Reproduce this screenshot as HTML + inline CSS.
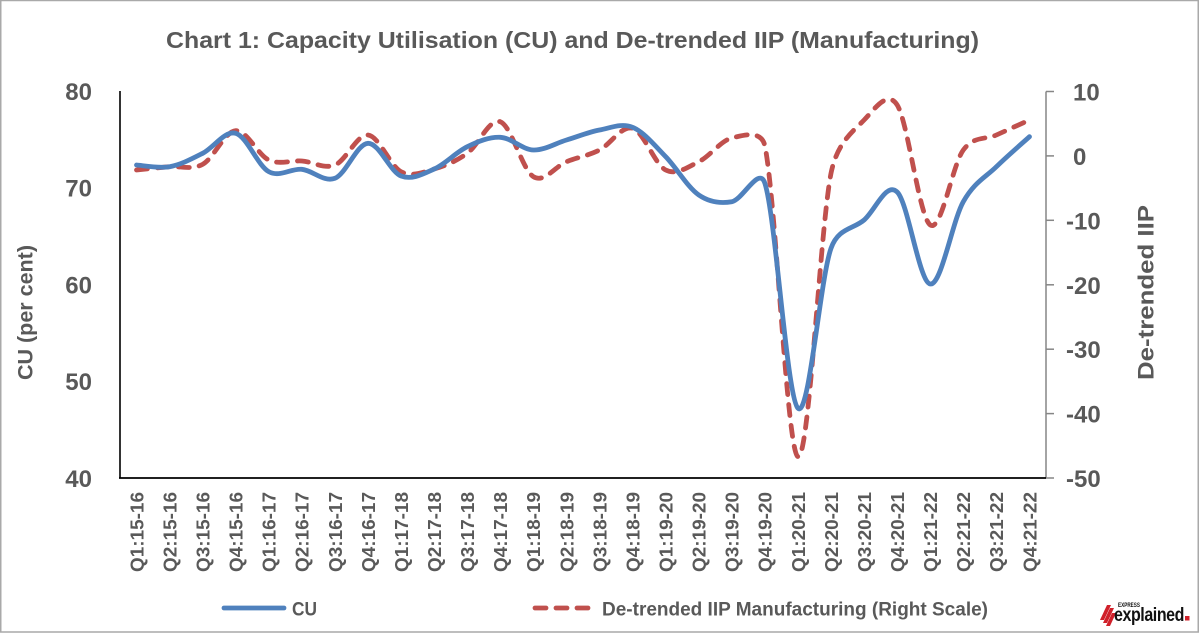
<!DOCTYPE html>
<html>
<head>
<meta charset="utf-8">
<style>
html,body{margin:0;padding:0;background:#fff;}
svg{display:block;}
text{font-family:"Liberation Sans",Arial,sans-serif;font-weight:bold;fill:#595959;}
</style>
</head>
<body>
<svg id="chart" width="1200" height="633" viewBox="0 0 1200 633" xmlns="http://www.w3.org/2000/svg">
  <rect x="0" y="0" width="1200" height="633" fill="#fff"/>
  <rect x="0.75" y="0.5" width="1197.5" height="631.5" fill="none" stroke="#a9a9a9" stroke-width="1.5"/>

  <!-- Title -->
  <text x="166" y="48" font-size="23" textLength="813" lengthAdjust="spacingAndGlyphs">Chart 1: Capacity Utilisation (CU) and De-trended IIP (Manufacturing)</text>

  <!-- Axes -->
  <line x1="120" y1="91" x2="120" y2="478.5" stroke="#000" stroke-width="1.6"/>
  <line x1="1046" y1="91.5" x2="1046" y2="478.5" stroke="#868686" stroke-width="1.5"/>
  <g stroke="#868686" stroke-width="1.5">
    <line x1="1046" y1="91.5" x2="1054" y2="91.5"/>
    <line x1="1046" y1="155.9" x2="1054" y2="155.9"/>
    <line x1="1046" y1="220.3" x2="1054" y2="220.3"/>
    <line x1="1046" y1="284.8" x2="1054" y2="284.8"/>
    <line x1="1046" y1="349.2" x2="1054" y2="349.2"/>
    <line x1="1046" y1="413.6" x2="1054" y2="413.6"/>
    <line x1="1046" y1="478" x2="1054" y2="478"/>
  </g>
  <line x1="119" y1="478" x2="1046" y2="478" stroke="#000" stroke-width="1.8"/>

  <!-- Left tick labels -->
  <g font-size="24" text-anchor="end">
    <text x="92" y="100">80</text>
    <text x="92" y="196.7">70</text>
    <text x="92" y="293.5">60</text>
    <text x="92" y="390.2">50</text>
    <text x="92" y="487">40</text>
  </g>
  <!-- Right tick labels -->
  <g font-size="24">
    <text x="1073" y="100.5">10</text>
    <text x="1073" y="164.9">0</text>
    <text x="1066" y="229.3">-10</text>
    <text x="1066" y="293.8">-20</text>
    <text x="1066" y="358.2">-30</text>
    <text x="1066" y="422.6">-40</text>
    <text x="1066" y="487">-50</text>
  </g>

  <!-- Axis titles -->
  <text transform="translate(32.5,380) rotate(-90)" font-size="21" textLength="135" lengthAdjust="spacingAndGlyphs">CU (per cent)</text>
  <text transform="translate(1153.5,380) rotate(-90)" font-size="22" textLength="175" lengthAdjust="spacingAndGlyphs">De-trended IIP</text>

  <!-- X labels -->
  <g id="xlabels" font-size="18.5" text-anchor="end"></g>

  <!-- Series -->
  <path id="iip" fill="none" stroke="#c0504d" stroke-width="4.8" stroke-dasharray="11 10" stroke-linecap="round" stroke-linejoin="round"
    d="M136.5,170 L169.6,166.7 L202.7,164.3 L235.7,130.7 L268.8,160 L301.9,161 L334.9,165 L368,135 L401.1,171.7 L434.1,169 L467.2,153.3 L500.3,121.7 L533.3,176.7 L566.4,161.7 L599.5,150 L632.6,128.3 L665.6,170 L698.7,161.7 L731.8,138 L764.8,146 L797.9,456.7 L831,173.3 L864,120 L897.1,105 L930.2,225 L963.3,150 L996.3,135 L1029.4,120"/>
  <path id="cu" fill="none" stroke="#4f81bd" stroke-width="4.8" stroke-linecap="round" stroke-linejoin="round"
    d="M136.5,165 L169.6,166.7 L202.7,153.3 L235.7,133.3 L268.8,171.7 L301.9,169.3 L334.9,178.3 L368,143.3 L401.1,176 L434.1,169 L467.2,146.7 L500.3,137.3 L533.3,150 L566.4,140 L599.5,130 L632.6,127.3 L665.6,156.7 L698.7,195 L731.8,201.7 L764.8,183.3 L797.9,408.3 L831,248.3 L864,220 L897.1,192 L930.2,284 L963.3,201.7 L996.3,166.7 L1029.4,136.7"/>

  <!-- Legend -->
  <line x1="224" y1="608" x2="284" y2="608" stroke="#4f81bd" stroke-width="4.8" stroke-linecap="round"/>
  <text x="292" y="615.5" font-size="19" textLength="25" lengthAdjust="spacingAndGlyphs">CU</text>
  <line x1="535" y1="608" x2="591" y2="608" stroke="#c0504d" stroke-width="4.8" stroke-dasharray="11 10" stroke-linecap="round"/>
  <text x="602" y="615.5" font-size="19" textLength="386" lengthAdjust="spacingAndGlyphs">De-trended  IIP Manufacturing (Right Scale)</text>

  <!-- Logo -->
  <g fill="#d0202a">
    <polygon points="1100,620 1104,620 1111,605 1107,605"/>
    <polygon points="1103,623 1107,623 1114,608 1110,608"/>
    <polygon points="1106,626 1110,626 1116,613 1112,613"/>
  </g>
  <text x="1118" y="607" font-size="6.5" style="fill:#111" textLength="22" lengthAdjust="spacingAndGlyphs">EXPRESS</text>
  <text x="1114" y="621" font-size="19" style="fill:#111;letter-spacing:-0.5px" textLength="70" lengthAdjust="spacingAndGlyphs">explained</text>
  <rect x="1185" y="616" width="4.5" height="4.5" fill="#d0202a"/>
</svg>
<script>
(function(){
  var N=28, x0=120, w=926/28;
  var xs=[];for(var i=0;i<N;i++)xs.push(x0+w*(i+0.5));
  var labels=[];
  for(var y=15;y<=21;y++){for(var q=1;q<=4;q++){labels.push("Q"+q+":"+y+"-"+(y+1));}}
  var g=document.getElementById("xlabels");
  var ns="http://www.w3.org/2000/svg";
  for(var i=0;i<N;i++){
    var t=document.createElementNS(ns,"text");
    t.setAttribute("transform","translate("+(xs[i]+6.8).toFixed(1)+",492) rotate(-90)");
    t.setAttribute("textLength","80");
    t.setAttribute("lengthAdjust","spacingAndGlyphs");
    t.textContent=labels[i];
    g.appendChild(t);
  }
  var cu=[165,166.7,153.3,133.3,171.7,169.3,178.3,143.3,176,169,146.7,137.3,150,140,130,127.3,156.7,195,201.7,183.3,408.3,248.3,220,192,284,201.7,166.7,136.7];
  var iip=[170,166.7,164.3,130.7,160,161,165,135,171.7,169,153.3,121.7,176.7,161.7,150,128.3,170,161.7,138,146,456.7,173.3,120,105,225,150,135,120];
  function pathFor(ys){
    var p=ys.map(function(v,i){return [xs[i],v];});
    var d="M"+p[0][0].toFixed(1)+","+p[0][1].toFixed(1);
    function len(a,b){return Math.hypot(b[0]-a[0],b[1]-a[1]);}
    for(var i=0;i<p.length-1;i++){
      var P0=p[i-1]||p[i],P1=p[i],P2=p[i+1],P3=p[i+2]||p[i+1];
      var seg=len(P1,P2);
      var v1=[P2[0]-P0[0],P2[1]-P0[1]],l1=Math.hypot(v1[0],v1[1]);
      var a1=Math.min(l1/6,seg/2);
      var c1=[P1[0]+v1[0]/l1*a1,P1[1]+v1[1]/l1*a1];
      var v2=[P3[0]-P1[0],P3[1]-P1[1]],l2=Math.hypot(v2[0],v2[1]);
      var a2=Math.min(l2/6,seg/2);
      var c2=[P2[0]-v2[0]/l2*a2,P2[1]-v2[1]/l2*a2];
      d+=" C"+c1[0].toFixed(1)+","+c1[1].toFixed(1)+" "+c2[0].toFixed(1)+","+c2[1].toFixed(1)+" "+P2[0].toFixed(1)+","+P2[1].toFixed(1);
    }
    return d;
  }
  document.getElementById("cu").setAttribute("d",pathFor(cu));
  document.getElementById("iip").setAttribute("d",pathFor(iip));
})();
</script>
</body>
</html>
